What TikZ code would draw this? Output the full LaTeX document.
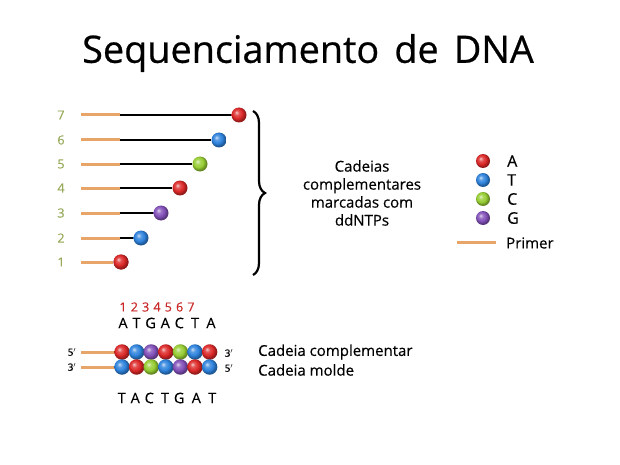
\documentclass[tikz,border=0pt]{standalone}
\usepackage{fontspec}
\setmainfont{Open Sans}[FakeBold=0.35]
\newfontfamily\titlefont{Open Sans}[FakeBold=0.6]
\usetikzlibrary{decorations.pathreplacing}
\definecolor{cA}{RGB}{220,40,40}
\definecolor{cT}{RGB}{45,130,220}
\definecolor{cC}{RGB}{150,205,50}
\definecolor{cG}{RGB}{130,80,185}
\definecolor{primerc}{RGB}{232,165,105}
\definecolor{numc}{RGB}{150,170,90}
\definecolor{redn}{RGB}{200,40,40}
\makeatletter
\pgfdeclareradialshading[tikz@ball]{myball}{\pgfqpoint{-9bp}{9bp}}{%
  color(0bp)=(tikz@ball!25!white);
  color(8bp)=(tikz@ball!80!white);
  color(17bp)=(tikz@ball);
  color(24bp)=(tikz@ball!70!black);
  color(50bp)=(tikz@ball!40!black)}
\makeatother
\tikzset{
  bc/.style={ball color=#1, shading=myball},
  bead/.style={circle, minimum size=15pt, inner sep=0pt},
  sbead/.style={circle, minimum size=15.5pt, inner sep=0pt},
  primer/.style={draw=primerc, line width=3pt},
  chain/.style={draw=black, line width=2.4pt},
  rownum/.style={text=numc, font=\fontsize{12.5}{14}\selectfont},
  lbl/.style={font=\fontsize{15}{18}\selectfont, anchor=west, inner sep=0pt},
}
\begin{document}
\begin{tikzpicture}[x=1pt,y=-1pt]
\useasboundingbox (0,0) rectangle (620,465);
% title
\node[font=\titlefont\fontsize{37.8}{42}\selectfont] (title) at (308,53) {Sequenciamento\hspace{0.4em}de\hspace{0.4em}DNA};
% ladder rows
\foreach \i/\y/\bx/\c in {7/115/239/cA, 6/140/219/cT, 5/164/200/cC, 4/188/180/cA, 3/213/161/cG, 2/238/141/cT, 1/262/121/cA} {
  \node[rownum] (n\i) at (61,\y) {\i};
  \coordinate (s\i) at (81,\y);
  \coordinate (m\i) at (120,\y);
  \node[bead, bc=\c] (b\i) at (\bx,\y) {};
}
\foreach \i in {2,...,7} {
  \draw[primer] (s\i) -- (m\i);
  \draw[chain] (m\i) -- (b\i);
}
\draw[primer] (s1) -- (b1);
\node[bead, bc=cA] (b1r) at (121,262) {};
% brace
\coordinate (brt) at (253,111);
\coordinate (brb) at (253,275);
\draw[line width=2.2pt, decorate, decoration={brace, amplitude=12pt, aspect=0.5}] (brt) -- (brb);
% description
\node[align=center, font=\fontsize{15}{18}\selectfont] (desc) at (362,193) {Cadeias\\complementares\\marcadas com\\ddNTPs};
% legend
\foreach \t/\y/\c in {A/161/cA, T/180/cT, C/199/cC, G/218/cG} {
  \node[bead, bc=\c, minimum size=14pt] (l\t) at (483,\y) {};
  \node[lbl, font=\fontsize{16}{18}\selectfont] (lt\t) at (507,\y) {\t};
}
\coordinate (lp1) at (457,242);
\coordinate (lp2) at (496,242);
\draw[primer] (lp1) -- (lp2);
\node[lbl] (lprimer) at (506,243) {Primer};
% bottom strands
\node[text=redn, font=\fontsize{12.5}{14}\selectfont] (nums) at (157,307) {1\,\,2\,\,3\,\,4\,\,5\,\,6\,\,7};
\node[font=\fontsize{14.5}{16}\selectfont] (top) at (167,323) {A\,\,T\,\,G\,\,A\,\,C\,\,\,T\,\,\,A};
\coordinate (p1a) at (81,352);
\coordinate (p1b) at (122,352);
\coordinate (p2a) at (81,367);
\coordinate (p2b) at (122,367);
\draw[primer] (p1a) -- (p1b);
\draw[primer] (p2a) -- (p2b);
\foreach \k/\c in {1/cA,2/cT,3/cG,4/cA,5/cC,6/cT,7/cA} {
  \node[sbead, bc=\c] (u\k) at ({122+14.6*(\k-1)},352) {};
}
\foreach \k/\c in {1/cT,2/cA,3/cC,4/cT,5/cG,6/cA,7/cT} {
  \node[sbead, bc=\c] (d\k) at ({122+14.6*(\k-1)},367) {};
}
\node[font=\fontsize{10}{12}\selectfont] (f5) at (72,352) {5$'$};
\node[font=\fontsize{10}{12}\selectfont] (f3) at (72,367) {3$'$};
\node[font=\fontsize{10}{12}\selectfont] (r3) at (229,353) {3$'$};
\node[font=\fontsize{10}{12}\selectfont] (r5) at (229,368) {5$'$};
\node[lbl] (lc) at (258,352) {Cadeia complementar};
\node[lbl] (lm) at (258,370) {Cadeia molde};
\node[font=\fontsize{14.5}{16}\selectfont] (bot) at (167,398) {T\,\,A\,\,C\,\,\,T\,\,G\,\,\,A\,\,\,T};
\end{tikzpicture}
\end{document}
